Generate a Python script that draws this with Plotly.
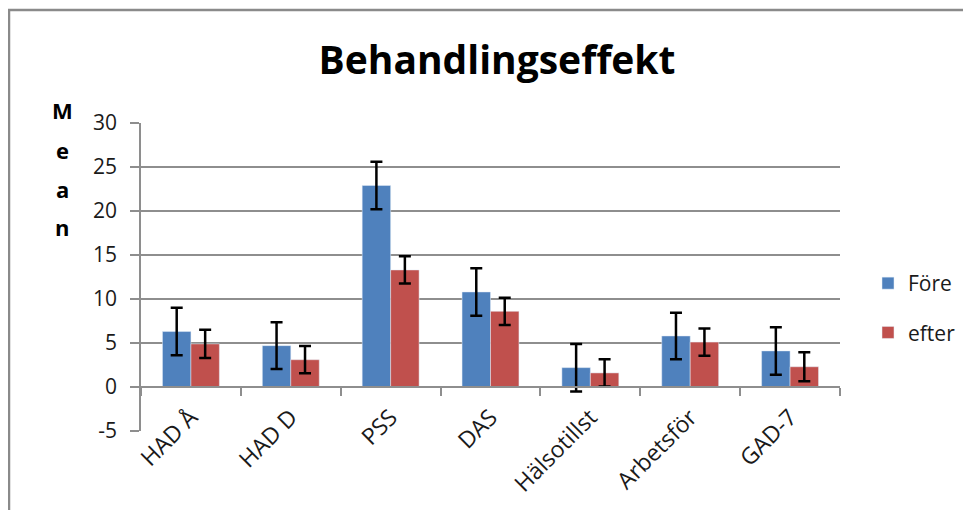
import plotly.graph_objects as go

categories = ["HAD Å", "HAD D", "PSS", "DAS", "Hälsotillst", "Arbetsför", "GAD-7"]
fore_mean = [6.3, 4.7, 22.9, 10.8, 2.2, 5.8, 4.1]
fore_err = [2.7, 2.65, 2.7, 2.7, 2.7, 2.65, 2.7]
efter_mean = [4.9, 3.1, 13.3, 8.6, 1.6, 5.1, 2.3]
efter_err = [1.6, 1.55, 1.55, 1.55, 1.55, 1.55, 1.65]
y_ticks = [-5, 0, 5, 10, 15, 20, 25, 30]
y_ticktext = ["-5", "0", "5", "10", "15", "20", "25", "30"]

W, H = 971, 510
OFF = 8  # page offset of the figure inside the browser window
ML, MT = 141 - OFF, 123 - OFF
PW, PH = 699, 308
MR, MB = W - ML - PW, H - MT - PH

def px(x):
    return (x - OFF - ML) / PW

def py(y):
    return 1 - (y - OFF - MT) / PH

FONT = "Open Sans"
BLUE = "#4F81BD"
RED = "#C0504D"
GRID = "#8E8E8E"
TXT = "#1a1a1a"

fig = go.Figure()
fig.add_trace(go.Bar(
    x=categories, y=fore_mean, name="Före", marker_color=BLUE,
    legendgroup="a",
    error_y=dict(type="data", array=fore_err, color="black", thickness=2.5, width=6),
))
fig.add_trace(go.Bar(
    x=categories, y=efter_mean, name="efter", marker_color=RED,
    legendgroup="b",
    error_y=dict(type="data", array=efter_err, color="black", thickness=2.5, width=6),
))
# helper trace so the zero-level category axis is drawn
fig.add_trace(go.Scatter(x=categories, y=[None] * len(categories), xaxis="x2",
                         showlegend=False, hoverinfo="skip", mode="markers"))

fig.update_layout(
    width=W, height=H,
    margin=dict(l=ML, r=MR, t=MT, b=MB, autoexpand=False),
    paper_bgcolor="white", plot_bgcolor="white",
    barmode="group", bargap=0.43, bargroupgap=0,
    title=dict(text="<b>Behandlingseffekt</b>", xref="container", yref="container",
               x=(497 - OFF) / W, y=1 - (60 - OFF) / H, xanchor="center", yanchor="middle",
               font=dict(family=FONT, size=39, color="black")),
    font=dict(family=FONT, size=20, color=TXT),
    xaxis=dict(categoryorder="array", categoryarray=categories, range=[-0.5, 6.5],
               showline=False, ticks="", showgrid=False, showticklabels=False,
               automargin=False),
    xaxis2=dict(overlaying="x", anchor="free", position=5 / 35,
                categoryorder="array", categoryarray=categories, range=[-0.5, 6.5],
                showline=True, linecolor=GRID, linewidth=1.5, ticks="outside",
                tickson="boundaries", ticklen=8, tickcolor=GRID, tickwidth=1.5,
                showticklabels=True, tickangle=-45, ticklabelstandoff=7,
                tickfont=dict(family=FONT, size=23, color=TXT),
                showgrid=False, automargin=False),
    yaxis=dict(range=[-5, 30], tickvals=y_ticks, ticktext=y_ticktext,
               showgrid=True, gridcolor=GRID,
               gridwidth=1.5, zeroline=False, showline=True, linecolor=GRID,
               linewidth=1.5, ticks="outside", ticklen=9, tickcolor=GRID,
               tickwidth=1.5, ticklabelstandoff=9,
               tickfont=dict(family=FONT, size=21, color=TXT),
               domain=[0, 1], automargin=False),
    legend=dict(x=px(868), y=py(263), xanchor="left", yanchor="top",
                traceorder="grouped", tracegroupgap=19,
                font=dict(family=FONT, size=21, color=TXT),
                bgcolor="rgba(0,0,0,0)"),
    showlegend=True,
)

for ch, yy in zip(["M", "e", "a", "n"], [110, 150, 189, 227]):
    fig.add_annotation(text="<b>%s</b>" % ch, xref="paper", yref="paper",
                       x=px(62), y=py(yy),
                       xanchor="center", yanchor="middle", showarrow=False,
                       font=dict(family=FONT, size=22, color="black"))

fig.add_shape(type="rect", xref="paper", yref="paper",
              x0=px(9), x1=px(1100), y0=py(600), y1=py(10),
              line=dict(color="#8A8A8A", width=2.5), fillcolor="rgba(0,0,0,0)",
              layer="below")

fig.write_html("out.html")
